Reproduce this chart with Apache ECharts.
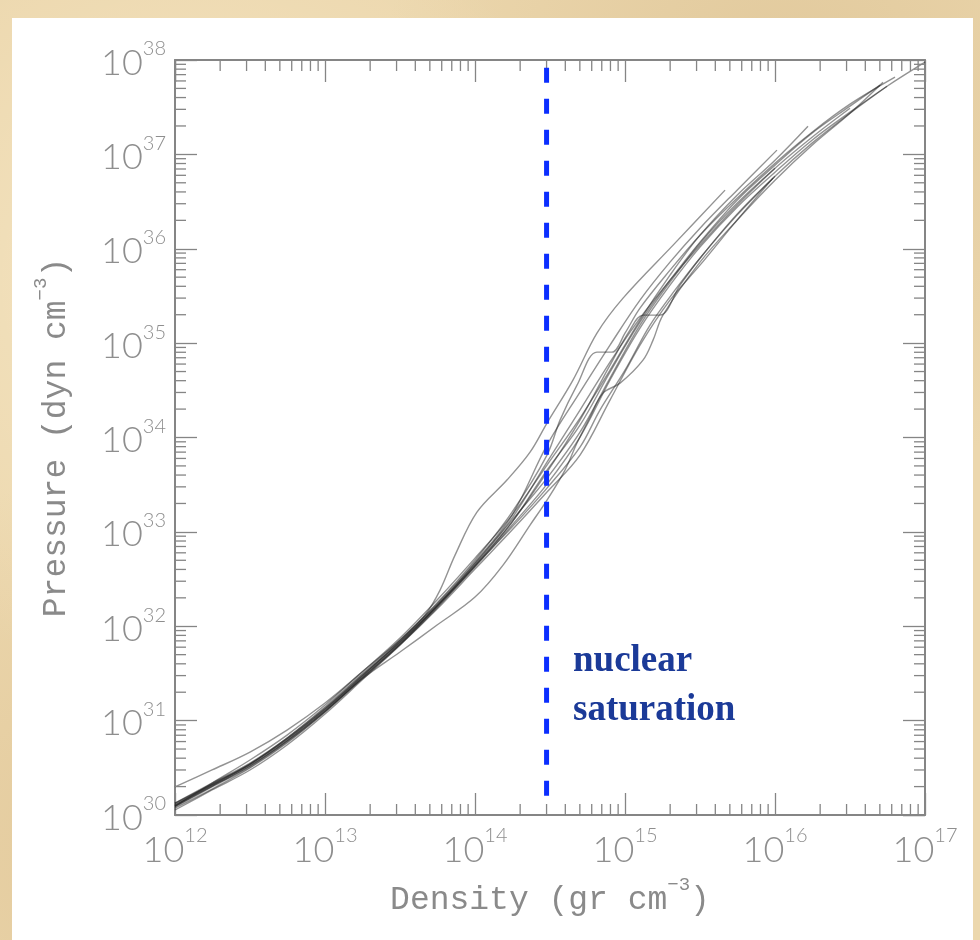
<!DOCTYPE html>
<html>
<head>
<meta charset="utf-8">
<script src="https://cdn.jsdelivr.net/npm/echarts@6.0.0/dist/echarts.min.js"></script>
<style>
html,body{margin:0;padding:0;width:980px;height:940px;overflow:hidden;}
body{background:#ecd7ad;
 background-image:
  radial-gradient(circle at 20% 30%, rgba(255,245,220,0.45) 0, rgba(255,245,220,0) 40%),
  radial-gradient(circle at 80% 10%, rgba(205,175,125,0.35) 0, rgba(205,175,125,0) 35%),
  radial-gradient(circle at 10% 90%, rgba(215,185,135,0.4) 0, rgba(215,185,135,0) 30%);}
#panel{position:absolute;left:12px;top:18px;width:961px;height:922px;background:#ffffff;}
#c{position:absolute;left:0;top:0;width:980px;height:940px;}
</style>
</head>
<body>
<div id="panel"></div>
<div id="c"></div>
<script>
// Axis ranges (log10 decades)
const xRange = [1e12, 1e17];
const yRange = [1e30, 1e38];
const xDecades = [1e12, 1e13, 1e14, 1e15, 1e16];
const yDecades = [1e30, 1e31, 1e32, 1e33, 1e34, 1e35, 1e36, 1e37];
const minorSteps = [2, 3, 4, 5, 6, 7, 8, 9];

// Nuclear saturation density line
const satDensity = 3.0e14;
const satPressure = [8.3e37, 1.55e30];

// EOS curves: [log10(density), log10(pressure)]
const eos1 = [[12.00,30.095],[12.247,30.339],[12.50,30.583],[12.747,30.847],[13.00,31.165],[13.247,31.515],[13.50,31.854],[13.667,32.119],[13.767,32.383],[13.867,32.754],[14.013,33.210],[14.213,33.549],[14.367,33.845],[14.48,34.153],[14.653,34.608],[14.813,35.106],[14.987,35.477],[15.327,36.049],[15.667,36.621]];
const eos2 = [[12.00,30.297],[12.247,30.477],[12.50,30.667],[12.747,30.900],[13.00,31.186],[13.247,31.515],[13.50,31.875],[13.747,32.278],[14.00,32.722],[14.247,33.178],[14.48,33.708],[14.70,34.206],[14.90,34.714],[15.10,35.244],[15.30,35.720],[15.50,36.144],[15.747,36.568],[16.00,36.939],[16.22,37.299]];
const eos3 = [[12.0,30.074],[12.247,30.275],[12.5,30.498],[12.747,30.763],[13.0,31.091],[13.247,31.441],[13.5,31.727],[13.747,32.013],[14.0,32.309],[14.187,32.648],[14.367,33.072],[14.48,33.337],[14.6,33.655],[14.68,33.941],[14.767,34.216],[14.853,34.470],[14.967,34.576],[15.12,34.820],[15.187,35.032],[15.253,35.297],[15.5,35.858],[15.747,36.303],[16.0,36.727],[16.247,37.097],[16.5,37.436],[16.72,37.765]];
const eos4 = [[12.0,30.117],[12.247,30.328],[12.5,30.540],[12.747,30.805],[13.0,31.123],[13.247,31.472],[13.5,31.843],[13.747,32.246],[14.0,32.701],[14.247,33.210],[14.48,33.814],[14.567,34.184],[14.68,34.555],[14.813,34.905],[14.913,34.905],[15.0,35.106],[15.1,35.371],[15.3,35.773],[15.5,36.144],[15.747,36.536],[16.0,36.907],[16.247,37.235],[16.5,37.532],[16.8,37.818]];
const eos5 = [[12,30.095],[12.247,30.307],[12.5,30.519],[12.747,30.784],[13,31.102],[13.247,31.451],[13.5,31.811],[13.747,32.214],[14,32.638],[14.247,33.104],[14.48,33.633],[14.7,34.184],[14.9,34.767],[15.033,35.138],[15.12,35.297],[15.233,35.297],[15.367,35.614],[15.5,35.900],[15.747,36.367],[16,36.769],[16.247,37.119],[16.5,37.436],[16.747,37.722]];
const eos6 = [[12,30.106],[12.247,30.318],[12.5,30.540],[12.747,30.816],[13,31.144],[13.247,31.494],[13.5,31.854],[13.747,32.235],[14,32.680],[14.247,33.178],[14.48,33.919],[14.7,34.481],[14.9,34.979],[15.1,35.456],[15.3,35.858],[15.5,36.218],[15.747,36.621],[16.013,37.045]];
const eos7 = [[12,30.127],[12.247,30.339],[12.5,30.551],[12.747,30.816],[13,31.133],[13.247,31.483],[13.5,31.833],[13.747,32.214],[14,32.669],[14.247,33.146],[14.48,33.739],[14.7,34.290],[14.9,34.799],[15.1,35.265],[15.3,35.667],[15.5,36.038],[15.747,36.462],[16,36.854]];
const eos8 = [[12,30.095],[12.247,30.307],[12.5,30.519],[12.747,30.784],[13,31.102],[13.247,31.451],[13.5,31.811],[13.747,32.203],[14,32.627],[14.247,33.072],[14.48,33.506],[14.7,34.004],[14.9,34.608],[15.1,35.159],[15.3,35.614],[15.5,36.017],[15.747,36.441],[16,36.811],[16.247,37.150],[16.5,37.447],[16.747,37.722],[17,37.977]];
const eos9 = [[12,30.053],[12.247,30.265],[12.5,30.477],[12.747,30.742],[13,31.070],[13.247,31.430],[13.5,31.801],[13.747,32.193],[14,32.638],[14.247,33.051],[14.48,33.464],[14.7,33.898],[14.833,34.290],[15,34.714],[15.167,35.191],[15.333,35.561],[15.5,35.900],[15.747,36.356],[16,36.769]];
const eos10 = [[12,30.127],[12.247,30.328],[12.5,30.540],[12.747,30.805],[13,31.123],[13.247,31.472],[13.5,31.833],[13.747,32.225],[14,32.659],[14.247,33.125],[14.48,33.570],[14.7,34.057],[14.9,34.629],[15.1,35.191],[15.3,35.646],[15.5,36.059],[15.747,36.483],[16,36.854],[16.247,37.182],[16.5,37.489]];
const eos11 = [[12,30.085],[12.247,30.297],[12.5,30.508],[12.747,30.773],[13,31.091],[13.247,31.441],[13.5,31.801],[13.747,32.182],[14,32.606],[14.247,33.019],[14.48,33.422],[14.7,33.814],[14.9,34.396],[15.1,34.979],[15.3,35.456],[15.5,35.826],[15.747,36.303],[15.987,36.748]];
const eos12 = [[12,30.106],[12.247,30.318],[12.5,30.530],[12.747,30.794],[13,31.112],[13.247,31.462],[13.5,31.822],[13.747,32.214],[14,32.648],[14.247,33.104],[14.48,33.655],[14.7,34.131],[14.9,34.693],[15.1,35.222],[15.3,35.667],[15.5,36.070],[15.747,36.515],[16,36.886],[16.247,37.225],[16.5,37.511],[16.7,37.733]];

const curves = [eos1, eos2, eos3, eos4, eos5, eos6, eos7, eos8, eos9, eos10, eos11, eos12];

// Texts
const xTitle = ['Density (gr cm', '\u22123', ')'];
const yTitle = ['Pressure (dyn cm', '\u22123', ')'];
const noteLines = ['nuclear', 'saturation'];

// ---- build ----
const toVal = p => [Math.pow(10, p[0]), Math.pow(10, p[1])];
const xMinor = [];
xDecades.forEach(d => minorSteps.forEach(k => xMinor.push([k * d, 1e34])));
const yMinor = [];
yDecades.forEach(d => minorSteps.forEach(k => yMinor.push([1e14, k * d])));

const GRAY = '#858585';
const tickLabelRich = {
  b: {fontFamily: 'Lato', fontWeight: 300, fontSize: 36, color: '#8e8e8e', lineHeight: 42, verticalAlign: 'bottom'},
  s: {fontFamily: 'Lato', fontWeight: 300, fontSize: 20, color: '#8e8e8e', lineHeight: 22, verticalAlign: 'top'}
};
const expLabel = v => '{b|10}{s|' + Math.round(Math.log10(v)) + '}';
const nameRich = {
  n: {fontFamily: 'Liberation Mono', fontSize: 33, color: '#8a8a8a', lineHeight: 42, verticalAlign: 'bottom'},
  s: {fontFamily: 'Liberation Mono', fontSize: 19, color: '#8a8a8a', lineHeight: 22, verticalAlign: 'top'}
};
const mkName = t => '{n|' + t[0] + '}{s|' + t[1] + '}{n|' + t[2] + '}';

function baseAxis(extra) {
  return Object.assign({
    type: 'log', logBase: 10,
    axisLine: {show: true, onZero: false, lineStyle: {color: GRAY, width: 2}},
    axisTick: {show: true, inside: true, length: 22, lineStyle: {color: GRAY, width: 1.3}},
    minorTick: {show: false},
    splitLine: {show: false},
    minorSplitLine: {show: false}
  }, extra);
}

function minorTickSeries(data, dir) {
  return {
    type: 'custom', silent: true, z: 5, clip: false,
    xAxisIndex: 0, yAxisIndex: 0,
    data: data,
    renderItem: function (params, api) {
      const cs = params.coordSys;
      const p = api.coord([api.value(0), api.value(1)]);
      const st = {stroke: GRAY, lineWidth: 1.3};
      const L = 11;
      if (dir === 'x') {
        const yb = cs.y + cs.height, yt = cs.y;
        return {type: 'group', children: [
          {type: 'line', shape: {x1: p[0], y1: yb, x2: p[0], y2: yb - L}, style: st},
          {type: 'line', shape: {x1: p[0], y1: yt, x2: p[0], y2: yt + L}, style: st}
        ]};
      } else {
        const xl = cs.x, xr = cs.x + cs.width;
        return {type: 'group', children: [
          {type: 'line', shape: {x1: xl, y1: p[1], x2: xl + L, y2: p[1]}, style: st},
          {type: 'line', shape: {x1: xr, y1: p[1], x2: xr - L, y2: p[1]}, style: st}
        ]};
      }
    }
  };
}

const series = curves.map((c, i) => ({
  type: 'line', name: 'eos' + (i + 1),
  data: c.map(toVal),
  symbol: 'none', showSymbol: false,
  smooth: 0.35,
  lineStyle: {color: 'rgba(30,30,30,0.48)', width: 1.4},
  silent: true, z: 3
}));

series.push({
  type: 'line', name: 'saturation',
  data: satPressure.map(p => [satDensity, p]),
  symbol: 'none', showSymbol: false,
  lineStyle: {color: '#0b2eff', width: 5, type: [15, 16]},
  silent: true, z: 6
});
series.push(minorTickSeries(xMinor, 'x'));
series.push(minorTickSeries(yMinor, 'y'));

const chart = echarts.init(document.getElementById('c'), null, {renderer: 'canvas'});
chart.setOption({
  backgroundColor: 'transparent',
  animation: false,
  grid: {left: 175, top: 60, width: 750, height: 755, containLabel: false},
  xAxis: [
    baseAxis({position: 'bottom', min: xRange[0], max: xRange[1], splitNumber: 5,
      axisLabel: {show: true, margin: 11, formatter: expLabel, rich: tickLabelRich},
      name: mkName(xTitle), nameLocation: 'middle', nameGap: 60,
      nameTextStyle: {rich: nameRich}}),
    baseAxis({position: 'top', min: xRange[0], max: xRange[1], splitNumber: 5,
      axisLabel: {show: false}})
  ],
  yAxis: [
    baseAxis({position: 'left', min: yRange[0], max: yRange[1], splitNumber: 8,
      axisLabel: {show: true, margin: 9, formatter: expLabel, rich: tickLabelRich},
      name: mkName(yTitle), nameLocation: 'middle', nameGap: 102, nameRotate: 90,
      nameTextStyle: {rich: nameRich}}),
    baseAxis({position: 'right', min: yRange[0], max: yRange[1], splitNumber: 8,
      axisLabel: {show: false}})
  ],
  graphic: [
    {type: 'text', left: 573, top: 643, z: 10, silent: true,
      style: {text: noteLines[0], font: 'bold 37px "Liberation Serif", "Times New Roman", serif', fill: '#1b3a98'}},
    {type: 'text', left: 573, top: 692, z: 10, silent: true,
      style: {text: noteLines[1], font: 'bold 37px "Liberation Serif", "Times New Roman", serif', fill: '#1b3a98'}}
  ],
  series: series
});
</script>
</body>
</html>
